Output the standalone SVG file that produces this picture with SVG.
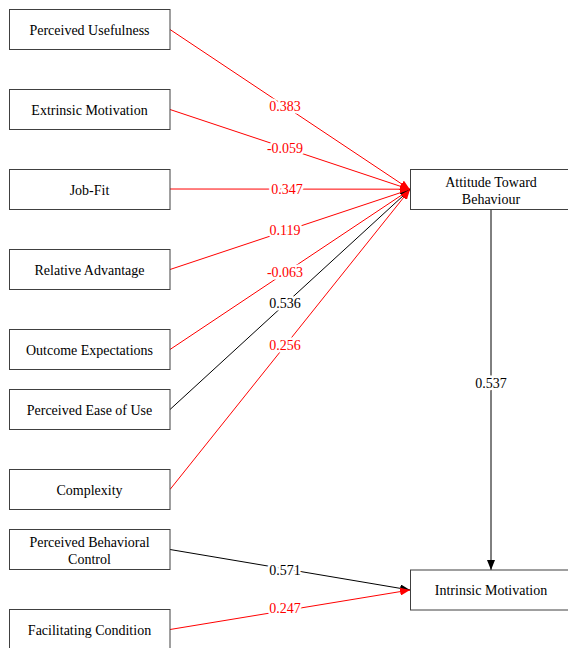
<svg xmlns="http://www.w3.org/2000/svg" width="568" height="648" viewBox="0 0 568 648">
<style>
.box{fill:#fff;stroke:#404040;stroke-width:1}
.t{font-family:"Liberation Serif","Times New Roman",serif;font-size:14px;fill:#000;text-anchor:middle}
.lbl{font-family:"Liberation Serif","Times New Roman",serif;font-size:14px;text-anchor:middle;stroke:#fff;stroke-width:5;paint-order:stroke;stroke-linejoin:round}
.r{stroke:#ff0000;fill:none;stroke-width:1}
.k{stroke:#000;fill:none;stroke-width:1}
</style>
<defs>
<marker id="ar" viewBox="0 0 10 8" refX="10" refY="4" markerWidth="10" markerHeight="8" markerUnits="userSpaceOnUse" orient="auto"><path d="M0,0 L10,4 L0,8 z" fill="#ff0000"/></marker>
<marker id="ak" viewBox="0 0 10 8" refX="10" refY="4" markerWidth="10" markerHeight="8" markerUnits="userSpaceOnUse" orient="auto"><path d="M0,0 L10,4 L0,8 z" fill="#000"/></marker>
</defs>
<rect width="568" height="648" fill="#fff"/>
<g id="connectors">
<path class="r" d="M170,29.5 L410,189.5" marker-end="url(#ar)"/>
<path class="r" d="M170,109.5 L410,189.5" marker-end="url(#ar)"/>
<path class="r" d="M170,189 L410,189.2" stroke-width="1.2" marker-end="url(#ar)"/>
<path class="r" d="M170,269.5 L410,189.5" marker-end="url(#ar)"/>
<path class="r" d="M170,349.5 L410,189.5" marker-end="url(#ar)"/>
<path class="k" d="M170,409.5 L410,189.5" marker-end="url(#ak)"/>
<path class="r" d="M170,489.5 L410,189.5" marker-end="url(#ar)"/>
<path class="k" d="M491,209.5 L491,570" marker-end="url(#ak)"/>
<path class="k" d="M170,549.5 L410,590" marker-end="url(#ak)"/>
<path class="r" d="M170,629.5 L410,590" marker-end="url(#ar)"/>
<text class="lbl" x="285" y="110.5" fill="#ff0000">0.383</text>
<text class="lbl" x="285" y="152.5" fill="#ff0000">-0.059</text>
<text class="lbl" x="287" y="194" fill="#ff0000">0.347</text>
<text class="lbl" x="285" y="235" fill="#ff0000">0.119</text>
<text class="lbl" x="285" y="277" fill="#ff0000">-0.063</text>
<text class="lbl" x="285" y="308" fill="#000">0.536</text>
<text class="lbl" x="285" y="350" fill="#ff0000">0.256</text>
<text class="lbl" x="491" y="387.5" fill="#000">0.537</text>
<text class="lbl" x="285" y="575" fill="#000">0.571</text>
<text class="lbl" x="285" y="613" fill="#ff0000">0.247</text>
</g>
<g id="n1"><rect class="box" x="9.5" y="9.5" width="160.5" height="40"/><text class="t" x="89.5" y="34.5">Perceived Usefulness</text></g>
<g id="n2"><rect class="box" x="9.5" y="89.5" width="160.5" height="40"/><text class="t" x="89.5" y="114.5">Extrinsic Motivation</text></g>
<g id="n3"><rect class="box" x="9.5" y="169.5" width="160.5" height="40"/><text class="t" x="89.5" y="194.5">Job-Fit</text></g>
<g id="n4"><rect class="box" x="9.5" y="249.5" width="160.5" height="40"/><text class="t" x="89.5" y="274.5">Relative Advantage</text></g>
<g id="n5"><rect class="box" x="9.5" y="329.5" width="160.5" height="40"/><text class="t" x="89.5" y="354.5">Outcome Expectations</text></g>
<g id="n6"><rect class="box" x="9.5" y="389.5" width="160.5" height="40"/><text class="t" x="89.5" y="414.5">Perceived Ease of Use</text></g>
<g id="n7"><rect class="box" x="9.5" y="469.5" width="160.5" height="40"/><text class="t" x="89.5" y="494.5">Complexity</text></g>
<g id="n8"><rect class="box" x="9.5" y="529.5" width="160.5" height="40"/><text class="t" x="89.5" y="546.5">Perceived Behavioral</text><text class="t" x="89.5" y="563.5">Control</text></g>
<g id="n9"><rect class="box" x="9.5" y="609.5" width="160.5" height="40"/><text class="t" x="89.5" y="634.5">Facilitating Condition</text></g>
<g id="n10"><rect class="box" x="410.5" y="169.5" width="161" height="40"/><text class="t" x="491" y="186.5">Attitude Toward</text><text class="t" x="491" y="203.5">Behaviour</text></g>
<g id="n11"><rect class="box" x="410.5" y="570" width="161" height="40"/><text class="t" x="491" y="595">Intrinsic Motivation</text></g>
</svg>
